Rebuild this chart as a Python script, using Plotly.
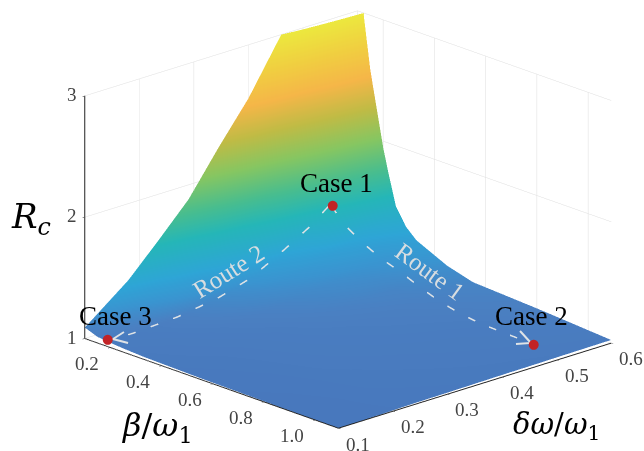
import plotly.graph_objects as go
import numpy as np

W, H = 644, 451
beta = [0.1, 0.125, 0.15, 0.2, 0.22, 0.25, 0.29, 0.33, 0.45, 0.55, 0.8, 1.09]
domega = [0.1, 0.18, 0.235, 0.29, 0.345, 0.4, 0.46, 0.5, 0.55, 0.6]
rc_beta_010 = [1.09, 1.37, 1.62, 1.88, 2.23, 2.56, 3.0, 3.3, 3.6, 3.9]
rc_beta_0125 = [1.07, 1.21, 1.34, 1.55, 1.85, 2.13, 2.38, 2.55, 2.78, 2.97]
rc_beta_015 = [1.05, 1.13, 1.23, 1.33, 1.5, 1.72, 2.04, 2.22, 2.4, 2.55]
rc_beta_020 = [1.04, 1.05, 1.08, 1.12, 1.18, 1.27, 1.38, 1.59, 1.76, 1.95]
rc_beta_022 = [1.035, 1.05, 1.075, 1.11, 1.16, 1.23, 1.33, 1.47, 1.6, 1.76]
rc_beta_025 = [1.03, 1.045, 1.07, 1.1, 1.14, 1.18, 1.24, 1.29, 1.36, 1.5]
rc_beta_029 = [1.025, 1.04, 1.06, 1.085, 1.115, 1.15, 1.19, 1.22, 1.26, 1.36]
rc_beta_033 = [1.02, 1.035, 1.05, 1.07, 1.09, 1.12, 1.15, 1.17, 1.2, 1.28]
rc_beta_045 = [1.015, 1.025, 1.035, 1.047, 1.065, 1.08, 1.095, 1.1, 1.13, 1.16]
rc_beta_055 = [1.01, 1.02, 1.03, 1.04, 1.05, 1.06, 1.07, 1.08, 1.09, 1.1]
rc_beta_080 = [1.005, 1.01, 1.02, 1.025, 1.03, 1.035, 1.04, 1.045, 1.06, 1.07]
rc_beta_109 = [1.0, 1.005, 1.01, 1.012, 1.015, 1.018, 1.02, 1.022, 1.024, 1.026]
rc_columns = [rc_beta_010, rc_beta_0125, rc_beta_015, rc_beta_020, rc_beta_022, rc_beta_025,
              rc_beta_029, rc_beta_033, rc_beta_045, rc_beta_055, rc_beta_080, rc_beta_109]

case_beta = [0.205, 1.0, 0.19]
case_domega = [0.505, 0.5, 0.1]
case_rc = [1.62, 1.08, 1.07]

route1_beta = [0.209, 0.26, 0.326, 0.40, 0.482, 0.56, 0.638, 0.72, 0.794, 0.90, 0.99]
route1_domega = [0.5] * 11
route1_rc = [1.62, 1.50, 1.41, 1.33, 1.27, 1.20, 1.14, 1.10, 1.08, 1.07, 1.065]
route2_beta = [0.2] * 9
route2_domega = [0.5, 0.466, 0.411, 0.356, 0.296, 0.2226, 0.142, 0.12, 0.105]
route2_rc = [1.605, 1.485, 1.34, 1.21, 1.13, 1.08, 1.06, 1.06, 1.07]

beta_ticks = [0.2, 0.4, 0.6, 0.8, 1.0]
domega_ticks = [0.1, 0.2, 0.3, 0.4, 0.5, 0.6]
rc_ticks = [1, 2, 3]

colorscale = [
    [0.0, "#4878bd"], [0.035, "#4a80c2"], [0.09, "#3a94d0"], [0.16, "#2ea5d6"], [0.29, "#25b6b8"],
    [0.39, "#48bd8f"], [0.51, "#86c662"], [0.63, "#c0bb45"], [0.75, "#f5b648"],
    [0.88, "#f0d040"], [1.0, "#ece83e"],
]

fig = go.Figure()
fig.add_trace(go.Surface(
    x=beta, y=domega, z=np.array(rc_columns).T.tolist(),
    colorscale=colorscale, cmin=1, cmax=3, showscale=False,
    lighting=dict(ambient=1, diffuse=0, specular=0, roughness=1, fresnel=0),
    hoverinfo="skip",
))
route = dict(mode="lines", line=dict(color="#dfe3e6", width=3, dash="longdash"), showlegend=False, hoverinfo="skip")
fig.add_trace(go.Scatter3d(x=route1_beta, y=route1_domega, z=route1_rc, **route))
fig.add_trace(go.Scatter3d(x=route2_beta, y=route2_domega, z=route2_rc, **route))

axis_common = dict(
    showbackground=False, showgrid=True, gridcolor="#dedede", gridwidth=1,
    zeroline=False, showline=True, linecolor="#222222", linewidth=2,
    ticks="inside", ticklen=3, tickcolor="#222222", title=dict(text=""),
    showticklabels=False, showspikes=False,
)
theta, phi = np.radians(43.2), np.radians(19.4)
r = 2.0
s = 0.986
scene_notes = [dict(x=b, y=d, z=c, text="●", showarrow=False,
                    font=dict(family="DejaVu Sans", size=13, color="#c22326"),
                    xanchor="center", yanchor="middle")
               for b, d, c in zip(case_beta, case_domega, case_rc)]
tick_font = dict(family="Liberation Serif", size=19, color="#444444")
for t in beta_ticks:
    scene_notes.append(dict(x=t, y=domega[0], z=1, text=f"{t:.1f}", showarrow=False, font=tick_font,
                            xshift=-23, yshift=-15))
for t in domega_ticks:
    scene_notes.append(dict(x=beta[-1], y=t, z=1, text=f"{t:.1f}", showarrow=False, font=tick_font,
                            xshift=20, yshift=-15))
for t in rc_ticks:
    scene_notes.append(dict(x=beta[0], y=domega[0], z=t, text=str(t), showarrow=False, font=tick_font,
                            xshift=-12, yshift=2))

fig.update_layout(
    width=W, height=H, margin=dict(l=0, r=0, t=0, b=0),
    paper_bgcolor="white", showlegend=False,
    scene=dict(
        domain=dict(x=[0.08, 1.0], y=[0.027, 0.997]),
        aspectmode="manual", aspectratio=dict(x=1.72*s, y=1.737*s, z=1.194*s),
        camera=dict(projection=dict(type="orthographic"),
                    eye=dict(x=r*np.cos(theta)*np.cos(phi), y=-r*np.sin(theta)*np.cos(phi), z=r*np.sin(phi)),
                    up=dict(x=0, y=0, z=1), center=dict(x=0, y=0, z=0)),
        xaxis=dict(range=[0.1, 1.09], tickvals=beta_ticks, **axis_common),
        yaxis=dict(range=[0.1, 0.6], tickvals=domega_ticks, **axis_common),
        zaxis=dict(range=[1, 3], tickvals=rc_ticks, **axis_common),
        annotations=scene_notes,
    ),
)

def label(px, py, text, size, color="black", angle=0, family="Liberation Serif"):
    fig.add_annotation(x=px / W, y=1 - py / H, xref="paper", yref="paper", text=text, showarrow=False,
                       font=dict(family=family, size=size, color=color), textangle=angle,
                       xanchor="center", yanchor="middle")

label(336, 183, "Case 1", 27)
label(531, 316, "Case 2", 27)
label(115, 316, "Case 3", 27)
label(228, 271, "Route 2", 25, "#d8dde0", -32)
label(430, 271, "Route 1", 25, "#d8dde0", 36)
label(31, 218, "<i>R<sub>c</sub></i>", 34, family="DejaVu Serif")
label(157, 427, "<i>β</i>/<i>ω</i><sub>1</sub>", 32, family="DejaVu Serif")
label(556, 426, "<i>δω</i>/<i>ω</i><sub>1</sub>", 29, family="DejaVu Serif")

def arrowhead(pts):
    path = "M " + " L ".join(f"{x / W:.4f},{1 - y / H:.4f}" for x, y in pts)
    fig.add_shape(type="path", path=path, xref="paper", yref="paper",
                  line=dict(color="#dfe3e6", width=2))

arrowhead([(128, 343), (113, 339), (124, 332)])
arrowhead([(520, 331), (531, 343), (516, 344)])

fig.write_html("out.html", post_script="document.body.style.margin='0';", config=dict(displayModeBar=False))
